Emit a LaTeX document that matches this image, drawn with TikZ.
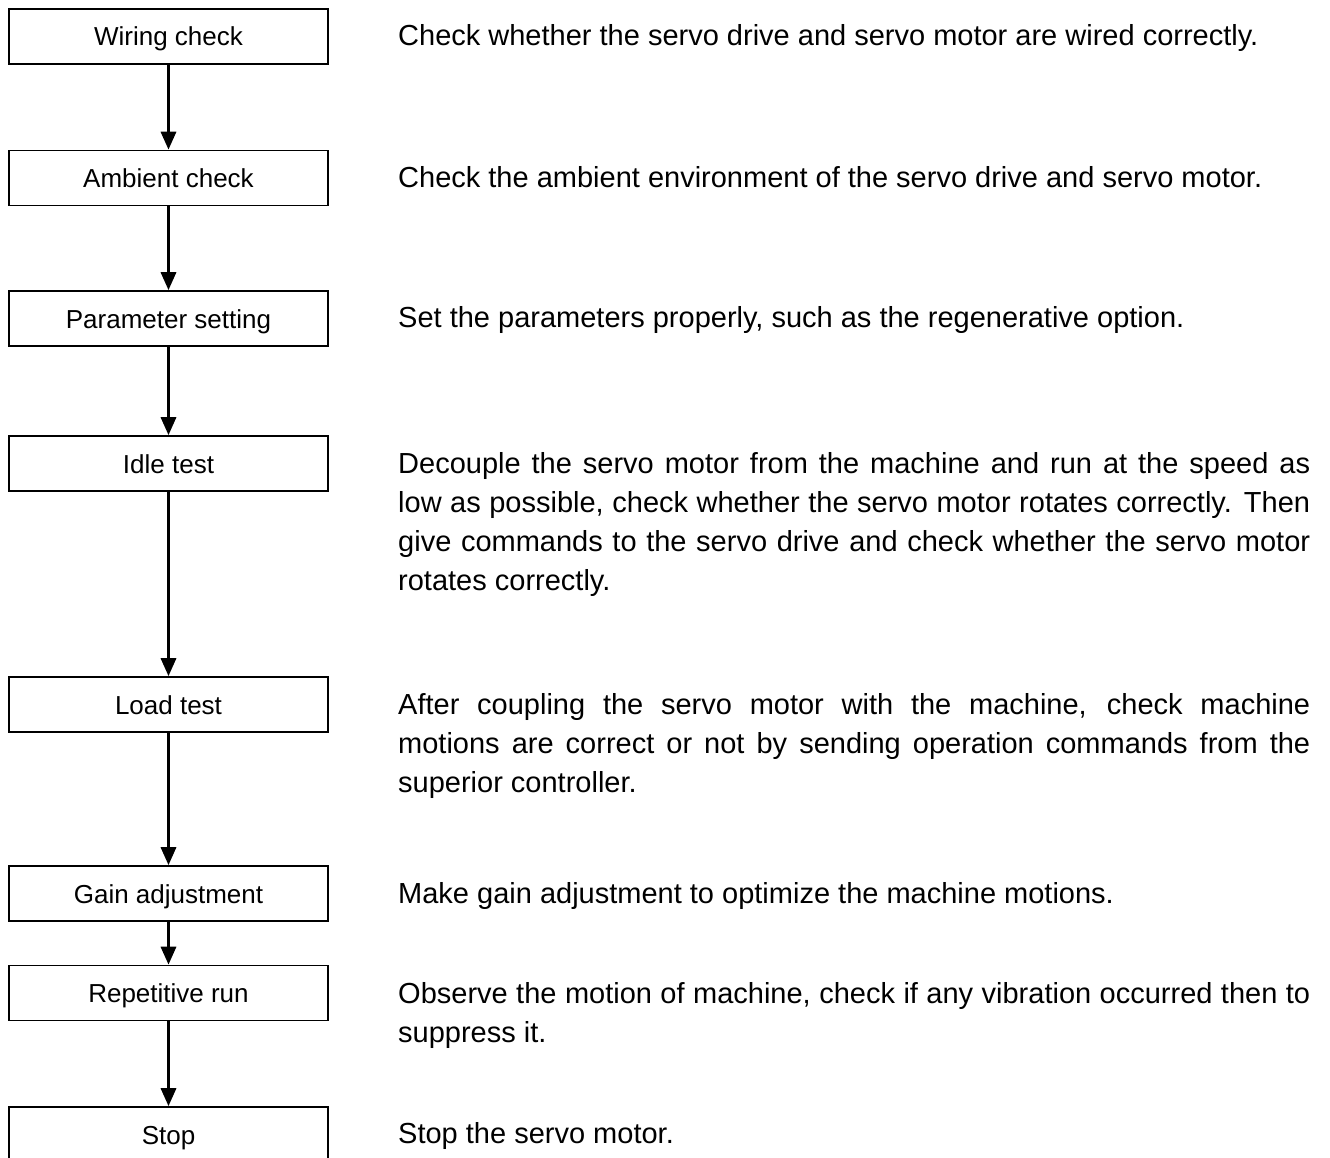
\documentclass[tikz,border=0pt]{standalone}
\usepackage{fontspec}
\setmainfont{Liberation Sans}
\usetikzlibrary{arrows.meta}
\begin{document}
\begin{tikzpicture}[x=1pt,y=-1pt,
  stepbox/.style={draw, line width=1.6pt, minimum width=319pt, minimum height=55pt,
    inner sep=0pt, font=\fontsize{26}{31}\selectfont, text height=19pt, text depth=0pt},
  desc/.style={anchor=base west, inner sep=0pt, text width=912pt, align=justify,
    font=\fontsize{29}{39}\selectfont},
  flow/.style={line width=3.2pt, -{Triangle[width=15pt,length=18pt]}}
]
\useasboundingbox (0,0) rectangle (1330,1158);
\clip (0,0) rectangle (1330,1158);
\fill[white] (0,0) rectangle (1330,1158);

\node[stepbox] (s1) at (168.5,36.5)  {Wiring check};
\node[stepbox] (s2) at (168.5,178)   {Ambient check};
\node[stepbox] (s3) at (168.5,318.5) {Parameter setting};
\node[stepbox] (s4) at (168.5,463.5) {Idle test};
\node[stepbox] (s5) at (168.5,704.5) {Load test};
\node[stepbox] (s6) at (168.5,893.5) {Gain adjustment};
\node[stepbox] (s7) at (168.5,993)   {Repetitive run};
\node[stepbox] (s8) at (168.5,1134.5){Stop};

\draw[flow] (s1) -- (s2);
\draw[flow] (s2) -- (s3);
\draw[flow] (s3) -- (s4);
\draw[flow] (s4) -- (s5);
\draw[flow] (s5) -- (s6);
\draw[flow] (s6) -- (s7);
\draw[flow] (s7) -- (s8);

\node[desc] (d1) at (398,45.5) {Check whether the servo drive and servo motor are wired correctly.};
\node[desc] (d2) at (398,187.5) {Check the ambient environment of the servo drive and servo motor.};
\node[desc] (d3) at (398,327.5) {Set the parameters properly, such as the regenerative option.};
\node[desc] (d4) at (398,473) {Decouple the servo motor from the machine and run at the speed as\linebreak
 low as possible, check whether the servo motor rotates correctly. Then\linebreak
 give commands to the servo drive and check whether the servo motor\linebreak
 rotates correctly.};
\node[desc] (d5) at (398,714) {After coupling the servo motor with the machine, check machine\linebreak
 motions are correct or not by sending operation commands from the\linebreak
 superior controller.};
\node[desc] (d6) at (398,903.5) {Make gain adjustment to optimize the machine motions.};
\node[desc] (d7) at (398,1003) {Observe the motion of machine, check if any vibration occurred then to\linebreak
 suppress it.};
\node[desc] (d8) at (398,1143.5) {Stop the servo motor.};
\end{tikzpicture}
\end{document}
